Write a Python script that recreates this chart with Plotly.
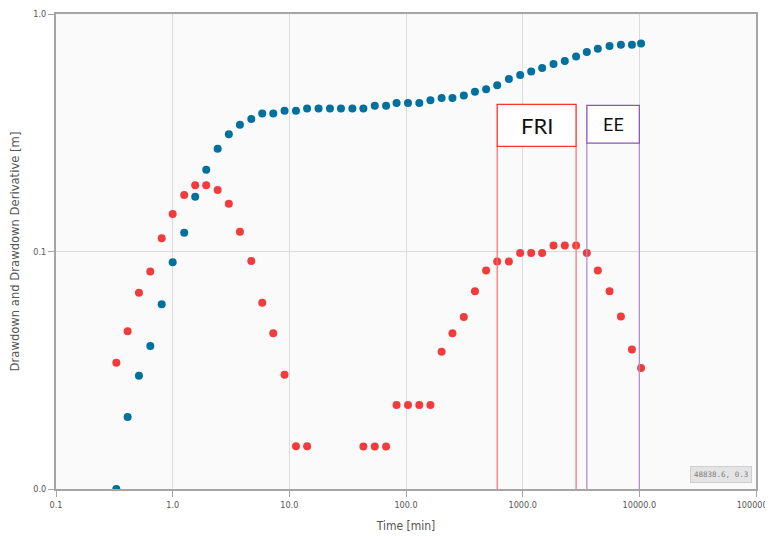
import math
import plotly.graph_objects as go

# ---- data ----
time_min = [0.329, 0.411, 0.514, 0.643, 0.805, 1.0, 1.256, 1.56, 1.94, 2.43, 3.03, 3.77,
            4.72, 5.86, 7.28, 9.1, 11.4, 14.2, 17.8, 22.3, 27.7, 34.7, 43.1, 54, 67.5, 83,
            104, 130, 162, 202, 250, 313, 390, 486, 605, 762, 952, 1183, 1469, 1839, 2298,
            2871, 3548, 4406, 5554, 6950, 8640, 10350]

drawdown = [0.010, 0.0201, 0.030, 0.040, 0.060, 0.090, 0.120, 0.170, 0.221, 0.271, 0.312,
            0.342, 0.361, 0.381, 0.381, 0.391, 0.391, 0.400, 0.400, 0.400, 0.400, 0.400,
            0.400, 0.411, 0.411, 0.422, 0.422, 0.422, 0.433, 0.443, 0.443, 0.454, 0.471,
            0.482, 0.501, 0.532, 0.553, 0.573, 0.592, 0.616, 0.634, 0.663, 0.692, 0.714,
            0.733, 0.743, 0.743, 0.752]

derivative = [0.034, 0.0462, 0.067, 0.0824, 0.1138, 0.1437, 0.173, 0.190, 0.190, 0.1815,
              0.159, 0.121, 0.0911, 0.0608, 0.0453, 0.0303, 0.01515, 0.01515, None, None,
              None, None, 0.0151, 0.0151, 0.0151, 0.0226, 0.0226, 0.0226, 0.0226, 0.0378,
              0.0453, 0.053, 0.068, 0.0832, 0.0908, 0.0908, 0.0985, 0.0985, 0.0985, 0.106,
              0.106, 0.106, 0.0985, 0.0832, 0.068, 0.0532, 0.0387, 0.0323]

x_tickvals = [0.1, 1, 10, 100, 1000, 10000, 100000]
x_ticktext = ["0.1", "1.0", "10.0", "100.0", "1000.0", "10000.0", "100000.0"]
y_tickvals = [0.01, 0.1, 1]
y_ticktext = ["0.0", "0.1", "1.0"]

fri_x = [605, 2871]
fri_y = [0.277, 0.416]
ee_x = [3550, 10000]
ee_y = [0.286, 0.412]
y_floor = 0.01

readout = "48838.6, 0.3"

BLUE = "#00709f"
RED = "#f03c3c"
FRI_LINE = "#ff6b6b"
FRI_BOX = "#ff3030"
EE_LINE = "#a98bd2"
EE_BOX = "#8a55c0"

fig = go.Figure()
fig.add_trace(go.Scatter(x=time_min, y=drawdown, mode="markers",
                         marker=dict(color=BLUE, size=8), name="Drawdown"))
fig.add_trace(go.Scatter(x=time_min, y=derivative, mode="markers",
                         marker=dict(color=RED, size=8), name="Derivative"))

shapes = []
for (xr, yr, lc, bc) in [(fri_x, fri_y, FRI_LINE, FRI_BOX), (ee_x, ee_y, EE_LINE, EE_BOX)]:
    for xv in xr:
        shapes.append(dict(type="line", xref="x", yref="y", x0=xv, x1=xv,
                           y0=y_floor, y1=yr[0], line=dict(color=lc, width=1.2), layer="above"))
    shapes.append(dict(type="rect", xref="x", yref="y", x0=xr[0], x1=xr[1], y0=yr[0], y1=yr[1],
                       line=dict(color=bc, width=1.3), fillcolor="white", layer="above"))

def gm(a):
    return math.log10(math.sqrt(a[0] * a[1]))

annotations = [
    dict(x=gm(fri_x), y=gm(fri_y), xref="x", yref="y", text="FRI", showarrow=False,
         font=dict(family="Lato", size=22, color="#111")),
    dict(x=gm(ee_x), y=gm(ee_y), xref="x", yref="y", text="EE", showarrow=False,
         font=dict(family="Lato", size=18, color="#111")),
    dict(x=0.9939, y=0.012, xref="paper", yref="paper", xanchor="right", yanchor="bottom",
         text=readout, showarrow=False, bgcolor="#e4e4e4", bordercolor="#cfcfcf",
         borderwidth=1, borderpad=3,
         font=dict(family="DejaVu Sans Mono", size=7.5, color="#808080")),
]

axis_common = dict(showline=True, linecolor="#a5a5a5", linewidth=2, mirror=True,
                   showgrid=True, gridcolor="#dcdcdc", gridwidth=1, automargin=False,
                   ticks="outside", ticklen=6, tickcolor="#a5a5a5", zeroline=False,
                   ticklabeloverflow="allow",
                   tickfont=dict(family="DejaVu Sans Condensed", size=9, color="#555"))

# the page body adds an 8px offset; the figure is sized/margined to compensate
fig.update_layout(
    width=765, height=528,
    margin=dict(l=48, r=17, t=6, b=47),
    paper_bgcolor="white", plot_bgcolor="#fafafa",
    showlegend=False,
    shapes=shapes, annotations=annotations,
    xaxis=dict(type="log", range=[-1, 5], tickvals=x_tickvals, ticktext=x_ticktext,
               title=dict(text="Time [min]", standoff=13,
                          font=dict(family="DejaVu Sans Condensed", size=12, color="#555")),
               **axis_common),
    yaxis=dict(type="log", range=[-2, 0], tickvals=y_tickvals, ticktext=y_ticktext,
               title=dict(text="Drawdown and Drawdown Derivative [m]", standoff=14,
                          font=dict(family="DejaVu Sans", size=11.6, color="#555")),
               **axis_common),
)

fig.write_html("out.html")
